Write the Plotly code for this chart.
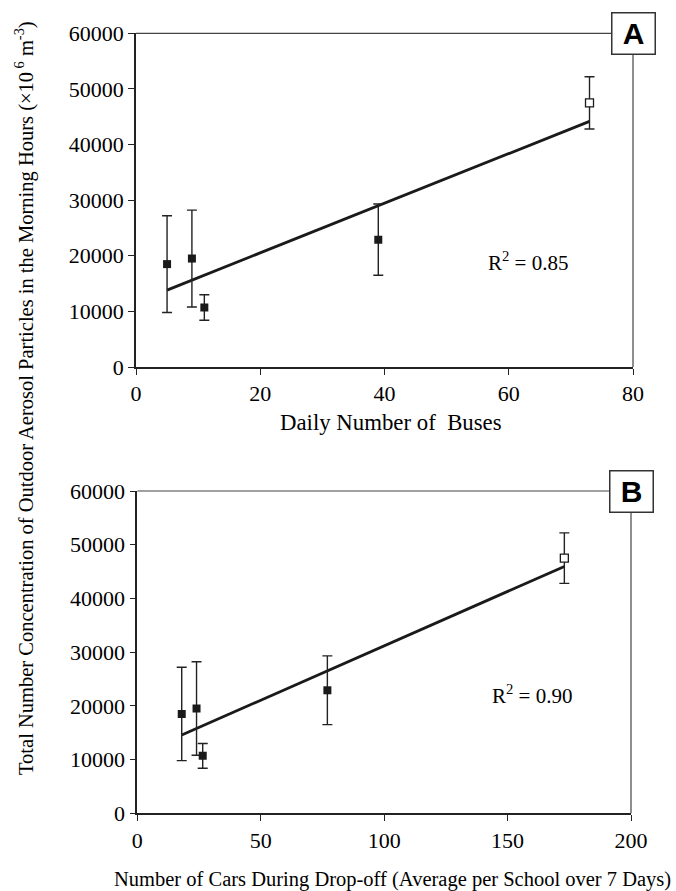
import numpy as np
import plotly.graph_objects as go

# ---- data ----
buses = [5, 9, 11, 39, 73]
cars = [18, 24, 26.5, 77, 173]
conc = [18500, 19500, 10700, 22900, 47500]
conc_err = [8700, 8700, 2300, 6400, 4700]
open_idx = 4  # last point drawn as open square
r2_a = "0.85"
r2_b = "0.90"
y_ticks = [0, 10000, 20000, 30000, 40000, 50000, 60000]
y_ticktext = ["0", "10000", "20000", "30000", "40000", "50000", "60000"]
xa_ticks = [0, 20, 40, 60, 80]
xb_ticks = [0, 50, 100, 150, 200]

FONT = "Liberation Serif"
INK = "#1a1a1a"

fig = go.Figure()


def add_panel(xs, xref, yref):
    xs = np.array(xs, dtype=float)
    ys = np.array(conc, dtype=float)
    err = np.array(conc_err, dtype=float)
    closed = [i for i in range(len(xs)) if i != open_idx]
    # regression line
    m, b = np.polyfit(xs, ys, 1)
    lx = np.array([xs.min(), xs.max()])
    fig.add_trace(go.Scatter(x=lx, y=m * lx + b, mode="lines",
                             line=dict(color=INK, width=2.8),
                             xaxis=xref, yaxis=yref, showlegend=False,
                             hoverinfo="skip"))
    fig.add_trace(go.Scatter(
        x=xs[closed], y=ys[closed], mode="markers",
        marker=dict(symbol="square", size=8, color=INK, line=dict(width=0)),
        error_y=dict(type="data", array=err[closed], color="#222", thickness=1.4, width=5),
        xaxis=xref, yaxis=yref, showlegend=False))
    fig.add_trace(go.Scatter(
        x=[xs[open_idx]], y=[ys[open_idx]], mode="markers",
        marker=dict(symbol="square", size=8, color="white", line=dict(color=INK, width=1.3)),
        error_y=dict(type="data", array=[err[open_idx]], color="#222", thickness=1.4, width=5),
        xaxis=xref, yaxis=yref, showlegend=False))


add_panel(buses, "x", "y")
add_panel(cars, "x2", "y2")

axis_common = dict(showgrid=False, zeroline=False, showline=True, linecolor="#222",
                   linewidth=1.6, ticks="outside", ticklen=6, tickwidth=1, tickcolor="#222",
                   tickfont=dict(family=FONT, size=22, color="black"), mirror=False,
                   automargin=False)

fig.update_layout(
    width=676, height=891,
    margin=dict(l=0, r=0, t=0, b=0, autoexpand=False),
    paper_bgcolor="white", plot_bgcolor="white",
    xaxis=dict(domain=[136 / 676, 633 / 676], range=[0, 80], tickvals=xa_ticks,
               anchor="y", **axis_common),
    yaxis=dict(domain=[1 - 367 / 891, 1 - 33.3 / 891], range=[0, 60000], tickvals=y_ticks,
               ticktext=y_ticktext, anchor="x", **axis_common),
    xaxis2=dict(domain=[137.3 / 676, 631 / 676], range=[0, 200], tickvals=xb_ticks,
                anchor="y2", **axis_common),
    yaxis2=dict(domain=[1 - 813.3 / 891, 1 - 491 / 891], range=[0, 60000], tickvals=y_ticks,
                ticktext=y_ticktext, anchor="x2", **axis_common),
)

shapes = []
for xr, yr in (("x", "y"), ("x2", "y2")):
    shapes.append(dict(type="line", xref=f"{xr} domain", yref=f"{yr} domain",
                       x0=0, x1=1, y0=1, y1=1, line=dict(color="#444", width=1.2)))
    shapes.append(dict(type="line", xref=f"{xr} domain", yref=f"{yr} domain",
                       x0=1, x1=1, y0=0, y1=1, line=dict(color="#444", width=1.2)))
fig.update_layout(shapes=shapes)

ann = []
for xr, yr, lab in (("x", "y", "A"), ("x2", "y2", "B")):
    ann.append(dict(xref=f"{xr} domain", yref=f"{yr} domain", x=1, y=1,
                    xanchor="center", yanchor="middle", text=f"<b>{lab}</b>",
                    showarrow=False, bgcolor="white", bordercolor="#333", borderwidth=1.5,
                    borderpad=0, width=42, height=40,
                    font=dict(family="Liberation Sans", size=30, color="black")))
ann.append(dict(xref="x", yref="y", x=63.1, y=19000, text=f"R<sup>2</sup> = {r2_a}",
                showarrow=False, xanchor="center", yanchor="middle",
                font=dict(family=FONT, size=21, color="black")))
ann.append(dict(xref="x2", yref="y2", x=160, y=22200, text=f"R<sup>2</sup> = {r2_b}",
                showarrow=False, xanchor="center", yanchor="middle",
                font=dict(family=FONT, size=21, color="black")))
ann.append(dict(xref="paper", yref="paper", x=391 / 676, y=1 - 423 / 891,
                text="Daily Number of  Buses", showarrow=False,
                xanchor="center", yanchor="middle",
                font=dict(family=FONT, size=22.8, color="black")))
ann.append(dict(xref="paper", yref="paper", x=392.5 / 676, y=1 - 879 / 891,
                text="Number of Cars During Drop-off (Average per School over 7 Days)",
                showarrow=False, xanchor="center", yanchor="middle",
                font=dict(family=FONT, size=20.5, color="black")))
ann.append(dict(xref="paper", yref="paper", x=25 / 676, y=1 - 398 / 891,
                text="Total Number Concentration of Outdoor Aerosol Particles in the Morning Hours (×10<sup> 6</sup> m<sup>-3</sup>)",
                showarrow=False, textangle=-90, xanchor="center", yanchor="middle",
                font=dict(family=FONT, size=20.5, color="black")))
fig.update_layout(annotations=ann)

fig.write_html("out.html")
